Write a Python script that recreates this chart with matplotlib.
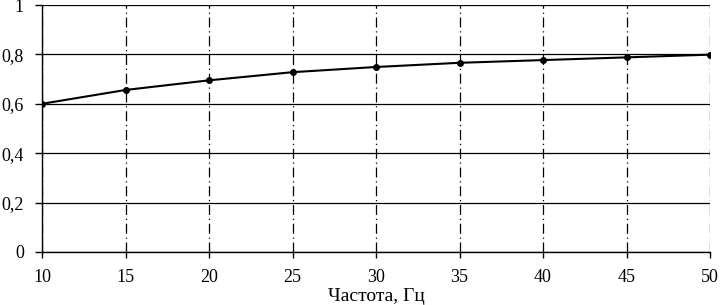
import numpy as np
import matplotlib.pyplot as plt

freq = [10, 15, 20, 25, 30, 35, 40, 45, 50]
values = [0.600, 0.656, 0.695, 0.728, 0.749, 0.766, 0.777, 0.788, 0.799]
yticks = [0, 0.2, 0.4, 0.6, 0.8, 1.0]
ytick_labels = ["0", "0,2", "0,4", "0,6", "0,8", "1"]

plt.rcParams["font.family"] = ["Liberation Serif", "DejaVu Serif"]

fig = plt.figure(figsize=(7.21, 3.05), dpi=100)
ax = fig.add_axes([42 / 721, 1 - 252 / 305, 668 / 721, 247 / 305])

ax.plot(freq, values, color="black", lw=1.5, marker="o", markersize=4, zorder=3)

ax.set_xlim(10, 50)
ax.set_ylim(0, 1)
ax.set_xticks(freq)
ax.set_yticks(yticks)
ax.set_yticklabels(ytick_labels)

ax.grid(True, axis="y", color="black", lw=0.9, ls="-")
ax.grid(True, axis="x", color="black", lw=0.9, ls=(0, (8, 3, 1, 3)))

for side in ["top", "right"]:
    ax.spines[side].set_visible(False)
for side in ["left", "bottom"]:
    ax.spines[side].set_linewidth(1.0)

ax.tick_params(axis="x", direction="out", length=4, width=1, labelsize=13, pad=8)
ax.tick_params(axis="y", direction="out", length=5, width=1, labelsize=13, pad=8)
ax.set_xlabel("Частота, Гц", fontsize=14, labelpad=2)

fig.savefig("out.png", dpi=100)
